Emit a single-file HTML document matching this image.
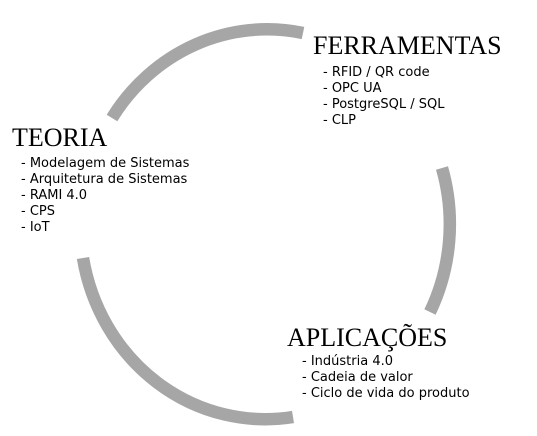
<!DOCTYPE html>
<html><head><meta charset="utf-8"><style>
html,body{margin:0;padding:0;background:#fff;width:537px;height:436px;overflow:hidden}
svg{position:absolute;left:0;top:0}
.t{position:absolute;font-family:"Liberation Serif",serif;font-size:26px;color:#000;line-height:1;white-space:nowrap}
.l{position:absolute;font-family:"DejaVu Sans",sans-serif;font-size:13px;line-height:16px;color:#000;white-space:pre}
</style></head><body>
<svg width="537" height="436">
<g fill="none" stroke="#a6a6a6" stroke-width="12.5">
<path d="M112,118 A185,195 0 0 1 303,33"/>
<path d="M442,168 A185,195 0 0 1 430,312"/>
<path d="M293,417 A185,195 0 0 1 83,258"/>
</g>
</svg>
<div class="t" style="left:313px;top:33px">FERRAMENTAS</div>
<div class="l" style="left:323px;top:65px">- RFID / QR code
- OPC UA
- PostgreSQL / SQL
- CLP</div>
<div class="t" style="left:12px;top:125px">TEORIA</div>
<div class="l" style="left:21px;top:156px">- Modelagem de Sistemas
- Arquitetura de Sistemas
- RAMI 4.0
- CPS
- IoT</div>
<div class="t" style="left:287px;top:325px">APLICAÇÕES</div>
<div class="l" style="left:302px;top:354px">- Indústria 4.0
- Cadeia de valor
- Ciclo de vida do produto</div>
</body></html>
